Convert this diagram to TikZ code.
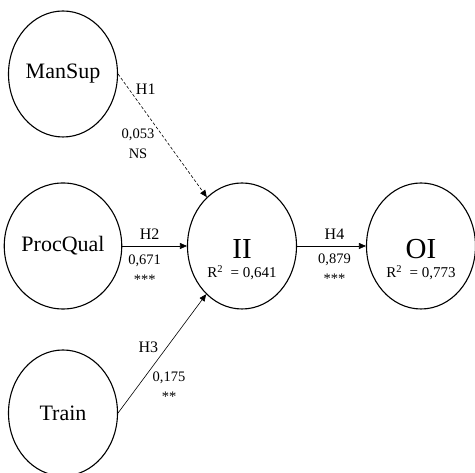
\documentclass[tikz,border=0pt]{standalone}
\usepackage{fontspec}
\setmainfont{Liberation Serif}
\usetikzlibrary{positioning,arrows.meta,shapes.geometric}

\begin{document}
\begin{tikzpicture}[
    >={Triangle[length=7pt,width=6pt]}, node distance=172pt and 179pt, on grid,
    latent/.style={draw, ellipse, line width=1.1pt, inner sep=0pt,
      minimum width=109pt, minimum height=126pt, align=center,
      font=\fontsize{22}{23}\selectfont},
    path/.style={->, line width=0.6pt},
    hyp/.style={font=\fontsize{16}{18}\selectfont, inner sep=1pt},
    coef/.style={font=\fontsize{14.5}{20}\selectfont, align=center, inner sep=1pt}]
  \useasboundingbox (0pt,0pt) rectangle (475pt,473pt);
  \node[latent] (pq) at (63pt,227pt) {ProcQual};
  \node[latent, above=of pq] (ms) {ManSup};
  \node[latent, below=167pt of pq] (tr) {Train};
  \node[latent, right=of pq] (ii)
    {\rule{0pt}{46pt}{\fontsize{29}{29}\selectfont II}\\[-4pt]{\fontsize{15}{15}\selectfont R\textsuperscript{2}~ = 0,641}};
  \node[latent, right=of ii] (oi)
    {\rule{0pt}{46pt}{\fontsize{29}{29}\selectfont OI}\\[-4pt]{\fontsize{15}{15}\selectfont R\textsuperscript{2}~ = 0,773}};
  % structural paths
  \draw[path, dash pattern=on 3pt off 2pt] (ms.east) -- (ii)
    node[hyp, pos=0.12, anchor=west, xshift=6pt] (h1) {H1}
    node[coef, pos=0.57, anchor=east, xshift=-13pt] (c1) {0,053\\NS};
  \draw[path] (pq.east) -- (ii)
    node[hyp, midway, above=5pt, xshift=-5pt] (h2) {H2}
    node[coef, midway, below=8pt, xshift=-10pt] (c2) {0,671\\***};
  \draw[path] (tr.east) -- (ii)
    node[hyp, pos=0.55, anchor=east, xshift=-7pt] (h3) {H3}
    node[coef, pos=0.22, anchor=west, xshift=14pt] (c3) {0,175\\**};
  \draw[path] (ii) -- (oi)
    node[hyp, midway, above=5pt, xshift=3pt] (h4) {H4}
    node[coef, midway, below=7pt, xshift=3pt] (c4) {0,879\\***};
\end{tikzpicture}
\end{document}
